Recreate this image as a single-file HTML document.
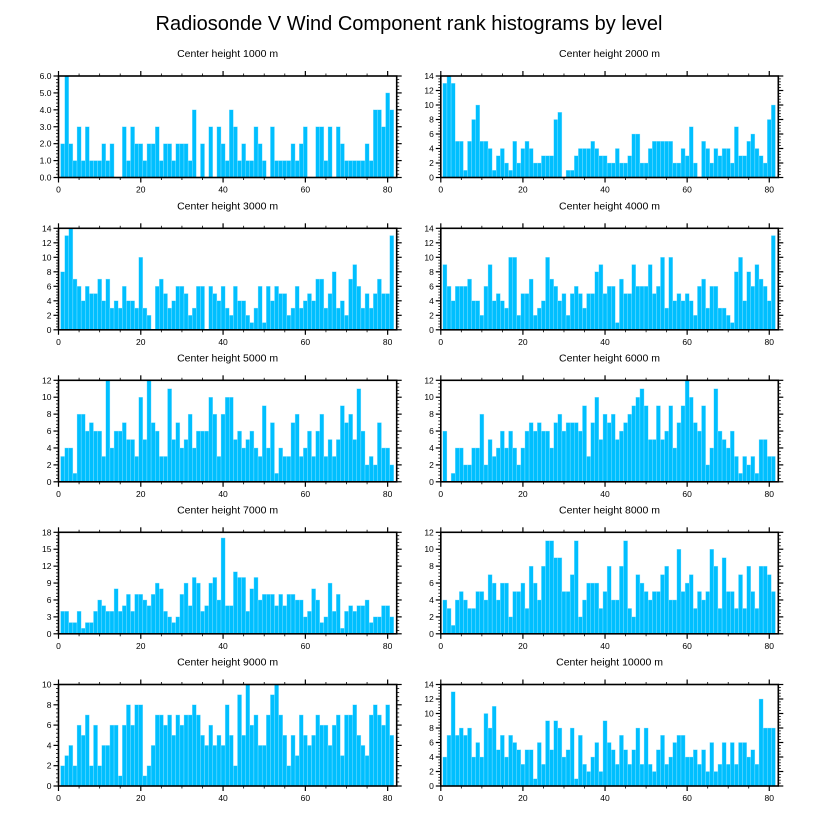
<!DOCTYPE html>
<html><head><meta charset="utf-8"><style>
html,body{margin:0;padding:0;background:#fff;}
svg{display:block;font-family:"Liberation Sans",sans-serif;}
</style></head><body>
<svg id="chart" width="818" height="824" viewBox="0 0 818 824">
<text x="409" y="30" font-size="20" text-anchor="middle">Radiosonde V Wind Component rank histograms by level</text>
</svg>
<script>
const titles = ["Center height 1000 m","Center height 2000 m","Center height 3000 m","Center height 4000 m","Center height 5000 m","Center height 6000 m","Center height 7000 m","Center height 8000 m","Center height 9000 m","Center height 10000 m"];
const xTicks = [0,20,40,60,80];
const yMax = [6,14,14,14,12,12,18,12,10,14];
const yStep = [1,2,2,2,2,2,3,2,2,2];
const h1000 = [2,6,2,1,3,1,3,1,1,1,2,1,2,0,0,3,1,3,2,2,1,2,2,3,1,2,2,1,2,2,2,1,4,0,2,0,3,0,3,2,1,4,3,1,2,1,1,3,2,1,0,3,1,1,1,1,2,1,2,3,0,0,3,3,1,3,0,3,2,1,1,1,1,1,2,1,4,4,3,5,4];
const h2000 = [13,14,13,5,5,1,5,8,10,5,5,4,1,3,4,2,1,5,2,4,5,4,2,2,3,3,3,8,9,0,1,1,3,4,4,4,5,4,3,3,2,2,4,2,2,3,6,6,2,2,4,5,5,5,5,5,2,2,4,3,7,2,0,5,4,2,4,3,4,4,2,7,3,3,5,6,4,3,2,8,10];
const h3000 = [8,13,14,7,6,4,6,5,5,7,4,7,3,4,3,6,4,4,3,10,3,2,0,6,7,5,3,4,6,6,5,2,3,6,6,0,6,5,4,6,3,2,6,4,4,2,1,3,6,1,6,4,6,5,5,2,3,6,3,4,5,4,7,7,3,5,8,3,4,2,7,9,6,3,5,3,5,7,5,5,13];
const h4000 = [9,6,4,6,6,6,7,4,4,2,6,9,4,5,4,3,10,10,2,5,5,7,2,3,4,10,7,6,4,5,2,5,6,5,3,5,5,8,9,5,6,6,1,7,5,5,9,6,6,6,9,5,6,10,3,10,4,5,4,5,4,2,6,7,3,6,6,3,3,2,1,8,10,4,8,6,9,7,6,4,13];
const h5000 = [3,4,4,1,8,8,6,7,6,6,3,12,4,6,6,7,5,5,3,10,5,12,7,6,3,3,11,5,7,4,5,8,4,6,6,6,10,8,3,8,10,10,5,6,4,5,6,4,3,9,4,7,1,4,3,3,7,8,3,4,6,3,6,8,3,5,3,5,9,7,8,5,11,6,2,3,2,7,4,4,2];
const h6000 = [6,0,1,4,4,2,2,4,4,8,2,5,3,4,6,4,6,4,2,4,6,7,6,7,6,6,4,7,8,6,7,7,7,6,9,3,7,10,5,8,7,8,5,6,7,8,9,10,11,9,5,5,9,5,6,9,4,7,9,12,10,7,6,9,2,4,11,6,5,4,6,3,1,3,2,3,1,5,5,3,3];
const h7000 = [4,4,2,2,4,1,2,2,4,6,5,4,4,8,4,5,7,4,7,7,6,5,7,9,8,4,3,2,3,7,9,5,10,9,4,5,9,10,6,17,5,5,11,10,10,4,8,10,6,7,7,7,5,7,5,7,7,6,6,3,4,8,6,2,3,9,4,7,1,4,5,4,5,5,6,2,3,3,5,5,3];
const h8000 = [4,3,1,4,5,4,3,3,5,5,4,7,6,4,6,6,2,5,5,6,3,8,6,4,8,11,11,9,9,5,5,7,11,2,4,6,6,6,3,5,8,4,4,8,11,3,2,7,6,5,4,5,5,7,8,4,4,10,5,6,7,3,5,4,5,10,8,3,9,5,5,3,7,3,8,5,3,8,8,7,5];
const h9000 = [2,3,4,2,6,5,7,2,6,2,4,4,6,6,1,6,8,6,8,8,1,2,4,7,7,6,7,5,7,6,7,7,8,7,5,4,6,4,5,4,8,5,2,9,5,10,6,7,4,4,7,9,10,7,5,2,5,3,7,5,4,5,7,6,6,4,6,7,3,7,7,8,5,4,3,7,8,7,6,8,5];
const h10000 = [4,7,13,7,8,7,8,4,6,4,10,8,11,5,7,4,7,6,5,3,5,5,1,6,3,9,5,9,8,4,5,8,1,7,3,2,4,6,2,9,6,5,3,7,5,3,5,8,3,8,3,2,5,7,3,4,6,7,7,4,4,5,3,5,2,6,2,3,6,3,6,3,6,6,4,5,3,12,8,8,8];
const series = [h1000,h2000,h3000,h4000,h5000,h6000,h7000,h8000,h9000,h10000];

const NS = "http://www.w3.org/2000/svg";
const svg = document.getElementById('chart');
const XMAX = 82.2;
function mk(tag, attrs, parent){
  const e = document.createElementNS(NS, tag);
  for (const k in attrs) e.setAttribute(k, attrs[k]);
  (parent||svg).appendChild(e);
  return e;
}
const colLeft = [58.5, 440.8], colWidth = [338.2, 337.5];
const rowTop = [76, 228.3, 380.3, 532.3, 684.5], plotH = 101.5;

for (let p = 0; p < 10; p++){
  const col = p % 2, row = Math.floor(p/2);
  const L = colLeft[col], W = colWidth[col], T = rowTop[row], B = T + plotH;
  const xS = v => L + v / XMAX * W;
  const yS = v => B - v / yMax[p] * plotH;
  const g = mk('g', {});
  
  
  const t = mk('text', {x: L + W/2, y: T - 19, 'font-size': 10.5, 'text-anchor': 'middle'}, g);
  
  
  t.textContent = titles[p];
  const data = series[p];
  for (let i = 0; i < data.length; i++){
    if (data[i] <= 0) continue;
    const x0 = xS(i + 0.5), x1 = xS(i + 1.5);
    const r = mk('rect', {x: x0, y: yS(data[i]), width: x1 - x0, height: B - yS(data[i]), fill: '#00bfff', stroke: '#9fe6ff', 'stroke-width': 0.35}, g);
    
    
  }
  const f = mk('rect', {x: L, y: T, width: W, height: plotH, fill: 'none', stroke: '#000', 'stroke-width': 1.6}, g);
  
  
  // x ticks
  for (let v = 0; v <= 80; v += 5){
    const major = v % 20 === 0, len = major ? 5 : 2.5, x = xS(v);
    mk('line', {x1: x, x2: x, y1: B, y2: B + len, stroke: '#000', 'stroke-width': major ? 1.2 : 0.8}, g);
    mk('line', {x1: x, x2: x, y1: T, y2: T - len, stroke: '#000', 'stroke-width': major ? 1.2 : 0.8}, g);
  }
  for (const v of xTicks){
    const tl = mk('text', {x: xS(v), y: B + 15, 'font-size': 8.5, 'text-anchor': 'middle'}, g);
    
    
    tl.textContent = v;
  }
  // y ticks
  const st = yStep[p], ms = st / 5;
  for (let k = 0; k * ms <= yMax[p] + 1e-9; k++){
    const v = k * ms, major = k % 5 === 0, len = major ? 5 : 2.5, y = yS(v);
    mk('line', {x1: L, x2: L - len, y1: y, y2: y, stroke: '#000', 'stroke-width': major ? 1.2 : 0.8}, g);
    mk('line', {x1: L + W, x2: L + W + len, y1: y, y2: y, stroke: '#000', 'stroke-width': major ? 1.2 : 0.8}, g);
    if (major){
      const yl = mk('text', {x: L - 7, y: y + 3, 'font-size': 8.5, 'text-anchor': 'end'}, g);
      
      
      yl.textContent = p === 0 ? v.toFixed(1) : Math.round(v);
    }
  }
}
</script>
</body></html>
